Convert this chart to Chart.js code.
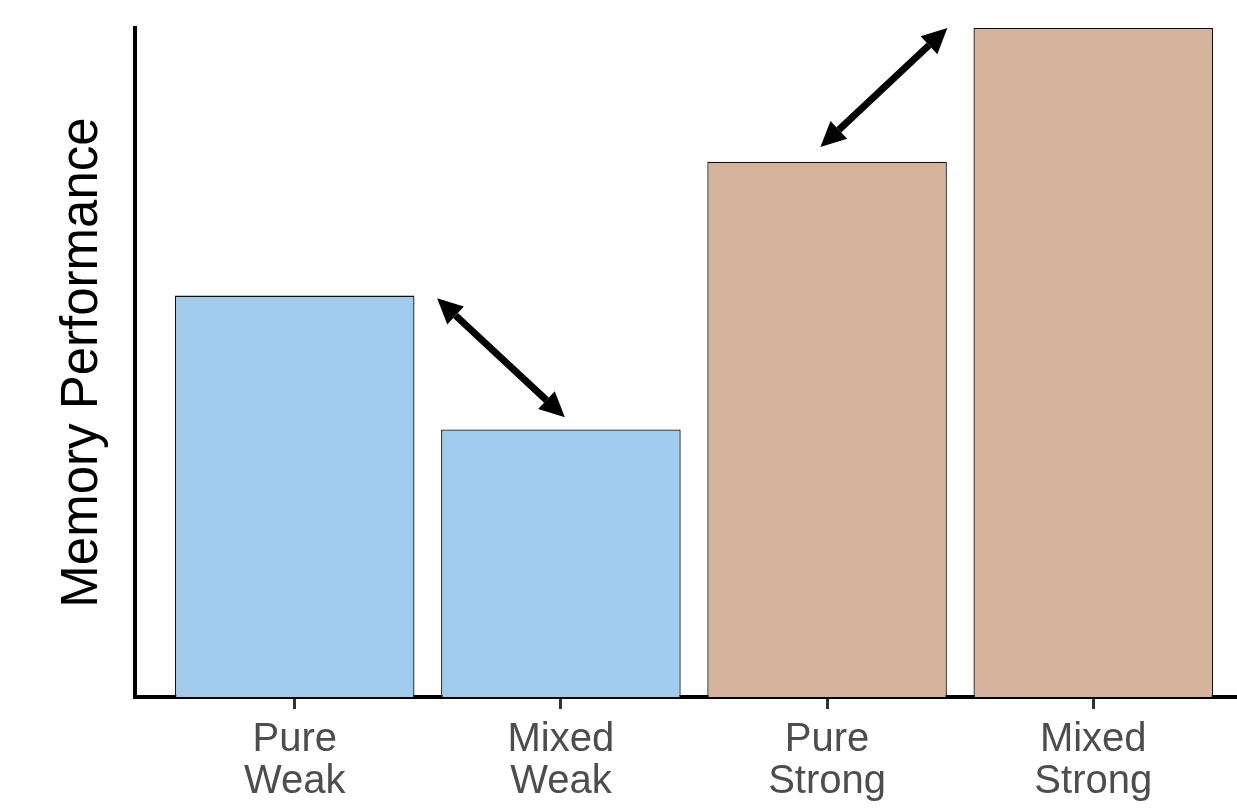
<!DOCTYPE html>
<html>
<head>
<meta charset="utf-8">
<script src="https://cdn.jsdelivr.net/npm/chart.js@4/dist/chart.umd.min.js"></script>
<style>
  html, body { margin: 0; padding: 0; background: #fff; overflow: hidden; }
  #wrap { width: 1237px; height: 809px; }
</style>
</head>
<body>
<div id="wrap"><canvas id="myChart"></canvas></div>
<script>
// categories and values
var categories = [["Pure", "Weak"], ["Mixed", "Weak"], ["Pure", "Strong"], ["Mixed", "Strong"]];
var performance = [0.6, 0.4, 0.8, 1.0];
var barColors = ["#a1cbed", "#a1cbed", "#d6b39c", "#d6b39c"];

// double headed arrows, in data units: [x1, y1, x2, y2]
var arrows = [
  [0.535, 0.596, 1.015, 0.418],
  [1.975, 0.822, 2.452, 1.0]
];

// draws the arrows through the chart's scales
var arrowPlugin = {
  id: "arrows",
  afterDatasetsDraw: function (chart) {
    var ctx = chart.ctx;
    var xs = chart.scales.x, ys = chart.scales.y;
    ctx.save();
    ctx.strokeStyle = "#000";
    ctx.fillStyle = "#000";
    ctx.lineWidth = 7;
    arrows.forEach(function (a) {
      var x1 = xs.getPixelForValue(a[0]), y1 = ys.getPixelForValue(a[1]);
      var x2 = xs.getPixelForValue(a[2]), y2 = ys.getPixelForValue(a[3]);
      var ang = Math.atan2(y2 - y1, x2 - x1);
      var head = 28, spread = 0.45;
      var back = head * Math.cos(spread);
      ctx.beginPath();
      ctx.moveTo(x1 + back * Math.cos(ang), y1 + back * Math.sin(ang));
      ctx.lineTo(x2 - back * Math.cos(ang), y2 - back * Math.sin(ang));
      ctx.stroke();
      [[x1, y1, ang], [x2, y2, ang + Math.PI]].forEach(function (p) {
        ctx.beginPath();
        ctx.moveTo(p[0], p[1]);
        ctx.lineTo(p[0] + head * Math.cos(p[2] - spread), p[1] + head * Math.sin(p[2] - spread));
        ctx.lineTo(p[0] + head * Math.cos(p[2] + spread), p[1] + head * Math.sin(p[2] + spread));
        ctx.closePath();
        ctx.fill();
      });
    });
    ctx.restore();
  }
};

var chart = new Chart(document.getElementById("myChart"), {
  type: "bar",
  data: {
    datasets: [{
      data: performance.map(function (v, i) { return { x: i, y: v }; }),
      backgroundColor: barColors,
      borderColor: "#111",
      borderWidth: 1.3,
      borderSkipped: "bottom",
      barPercentage: 0.9,
      categoryPercentage: 1.0
    }]
  },
  options: {
    responsive: true,
    maintainAspectRatio: false,
    animation: false,
    layout: { padding: { top: 28, right: 0, bottom: 0, left: 0 } },
    plugins: { legend: { display: false }, tooltip: { enabled: false } },
    scales: {
      x: {
        type: "linear",
        min: -0.6,
        max: 3.54,
        offset: false,
        afterBuildTicks: function (s) {
          s.ticks = categories.map(function (c, i) { return { value: i }; });
        },
        afterFit: function (s) { s.height = 112; },
        grid: {
          offset: false,
          drawOnChartArea: false,
          drawTicks: true,
          tickLength: 12,
          tickWidth: 3,
          tickColor: "#333"
        },
        border: { display: true, color: "#000", width: 4 },
        ticks: {
          autoSkip: false,
          maxRotation: 0,
          padding: 10,
          color: "#4d4d4d",
          font: { family: "'Liberation Sans', Arial, sans-serif", size: 40, lineHeight: 1.05 },
          callback: function (v) { return categories[v]; }
        }
      },
      y: {
        min: 0,
        max: 1,
        grid: { display: false },
        border: { display: true, color: "#000", width: 4 },
        ticks: { display: false },
        title: {
          display: true,
          text: "Memory Performance",
          color: "#000",
          padding: { top: 52, bottom: 0 },
          font: { family: "'Liberation Sans', Arial, sans-serif", size: 51 }
        },
        afterFit: function (s) { s.width = 135; }
      }
    }
  },
  plugins: [arrowPlugin]
});
</script>
</body>
</html>
